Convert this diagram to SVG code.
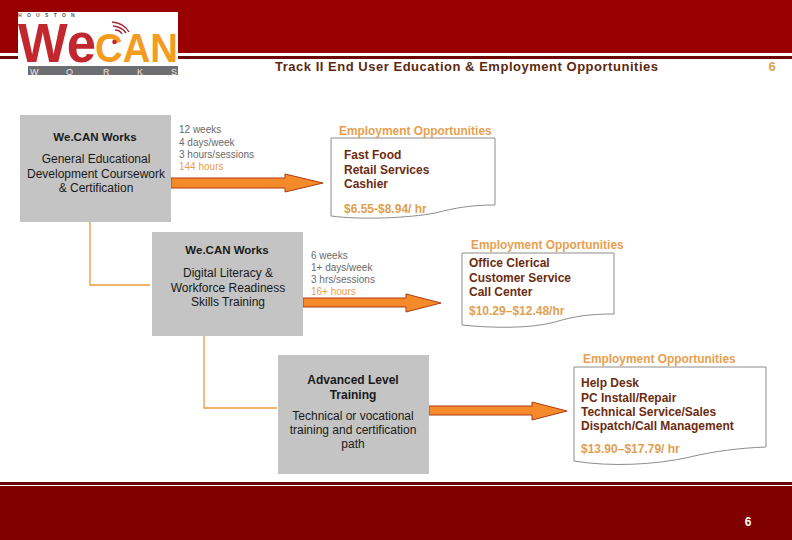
<svg xmlns="http://www.w3.org/2000/svg" width="792" height="540" viewBox="0 0 792 540">
<style>
text{font-family:"Liberation Sans",Arial,sans-serif}
.box{fill:#c4c4c4}
.t{font-size:12px;fill:#1a1a1a;text-anchor:middle}
.tb{font-size:11.500px;fill:#1a1a1a;text-anchor:middle;font-weight:bold}
.s{font-size:10px;fill:#6a6a6a}
.so{font-size:10px;fill:#e8a050}
.eo{font-size:11.900px;font-weight:bold;fill:#e8a050}
.job{font-size:12px;font-weight:bold;fill:#6b2c10}
.pay{font-size:12px;font-weight:bold;fill:#dfa050}
.doc{fill:#fff;stroke:#8c8c8c;stroke-width:1}
.arr{fill:#f58a2a;stroke:#b03a10;stroke-width:1}
.ln{fill:none;stroke:#ec9a38;stroke-width:1.300}
</style>
<g id="header">
<rect width="792" height="53" fill="#990000"/>
<rect y="53" width="792" height="6" fill="#fff"/>
<rect y="56" width="792" height="3" fill="#6b0808"/>
</g>
<g id="logo">
<rect x="18" y="12" width="160" height="64" fill="#fff"/>
<text x="18" y="17" font-size="5" fill="#555" font-weight="bold" letter-spacing="5.300">HOUSTON</text>
<text x="18" y="62" font-size="56" font-weight="bold" fill="#c1272d" textLength="78" lengthAdjust="spacingAndGlyphs">We</text>
<text x="95" y="62" font-size="41" font-weight="bold" fill="#f39c1f" textLength="83" lengthAdjust="spacingAndGlyphs">CAN</text>
<circle cx="114.500" cy="42" r="2.300" fill="#c1272d"/>
<path d="M112 22Q124 23 129 32M113 26Q122 27 126 33M115 30Q120 30 122 34" fill="none" stroke="#a52a3a" stroke-width="1.500"/>
<rect x="28" y="66" width="150" height="9" fill="#6d6e71"/>
<text x="30 66 103 137 171" y="74.500" font-size="9" fill="#e8e8e8">WORKS</text>
</g>
<text id="title" x="466.500" y="70.500" font-size="13" font-weight="bold" fill="#5a2a10" text-anchor="middle" textLength="383" lengthAdjust="spacing">Track II End User Education &amp; Employment Opportunities</text>
<text id="page-top" x="772" y="70.500" font-size="13" font-weight="bold" fill="#dfa050" text-anchor="middle">6</text>
<g id="connectors">
<path class="ln" d="M90 222V285H150"/>
<path class="ln" d="M204 336V408H277"/>
<path class="arr" d="M171 178H285V174L323 183L285 192V188H171Z"/>
<path class="arr" d="M303 298H406V294L441 303L406 312V307H303Z"/>
<path class="arr" d="M429 406H532V402L567 411L532 420V415H429Z"/>
</g>
<g id="node-1">
<rect class="box" x="20" y="115" width="151" height="107"/>
<text class="tb" x="95" y="141">We.CAN Works</text>
<text class="t" x="96" y="163">General Educational</text>
<text class="t" x="96" y="177.500">Development Coursework</text>
<text class="t" x="96" y="192">&amp; Certification</text>
</g>
<g id="info-1">
<text class="s" x="179" y="133">12 weeks</text>
<text class="s" x="179" y="145.500">4 days/week</text>
<text class="s" x="179" y="157.500">3 hours/sessions</text>
<text class="so" x="179" y="169.500">144 hours</text>
</g>
<g id="doc-1">
<path class="doc" d="M331 138H495V205C470 205 455 208 435 213C410 218 360 220 331 216Z"/>
<text class="eo" x="339" y="135">Employment Opportunities</text>
<text class="job" x="344" y="159">Fast Food</text>
<text class="job" x="344" y="173.500">Retail Services</text>
<text class="job" x="344" y="188">Cashier</text>
<text class="pay" x="344" y="213">$6.55-$8.94/ hr</text>
</g>
<g id="node-2">
<rect class="box" x="152" y="232" width="151" height="104"/>
<text class="tb" x="227" y="254">We.CAN Works</text>
<text class="t" x="228" y="277">Digital Literacy &amp;</text>
<text class="t" x="228" y="291.500">Workforce Readiness</text>
<text class="t" x="228" y="306">Skills Training</text>
</g>
<g id="info-2">
<text class="s" x="311" y="259">6 weeks</text>
<text class="s" x="311" y="271">1+ days/week</text>
<text class="s" x="311" y="283">3 hrs/sessions</text>
<text class="so" x="311" y="295">16+ hours</text>
</g>
<g id="doc-2">
<path class="doc" d="M462 253H614V314C590 314 575 316 555 322C530 329 490 328 462 325Z"/>
<text class="eo" x="471" y="249">Employment Opportunities</text>
<text class="job" x="469" y="267">Office Clerical</text>
<text class="job" x="469" y="282">Customer Service</text>
<text class="job" x="469" y="296">Call Center</text>
<text class="pay" x="469" y="315">$10.29–$12.48/hr</text>
</g>
<g id="node-3">
<rect class="box" x="278" y="355" width="151" height="119"/>
<text class="tb" x="353" y="384" style="font-size:12px">Advanced Level</text>
<text class="tb" x="353" y="398.500" style="font-size:12px">Training</text>
<text class="t" x="353" y="420">Technical or vocational</text>
<text class="t" x="353" y="434">training and certification</text>
<text class="t" x="353" y="448">path</text>
</g>
<g id="doc-3">
<path class="doc" d="M574 367H766V447C740 448 715 451 690 457C655 465 610 467 574 461Z"/>
<text class="eo" x="583" y="363">Employment Opportunities</text>
<text class="job" x="581" y="387">Help Desk</text>
<text class="job" x="581" y="401.500">PC Install/Repair</text>
<text class="job" x="581" y="416">Technical Service/Sales</text>
<text class="job" x="581" y="430">Dispatch/Call Management</text>
<text class="pay" x="581" y="453">$13.90–$17.79/ hr</text>
</g>
<g id="footer">
<rect y="482" width="792" height="3" fill="#6b0000"/>
<rect y="485" width="792" height="1" fill="#fff"/>
<rect y="486" width="792" height="54" fill="#800000"/>
<text x="748" y="526" font-size="12" font-weight="bold" fill="#fff" text-anchor="middle">6</text>
</g>
</svg>
